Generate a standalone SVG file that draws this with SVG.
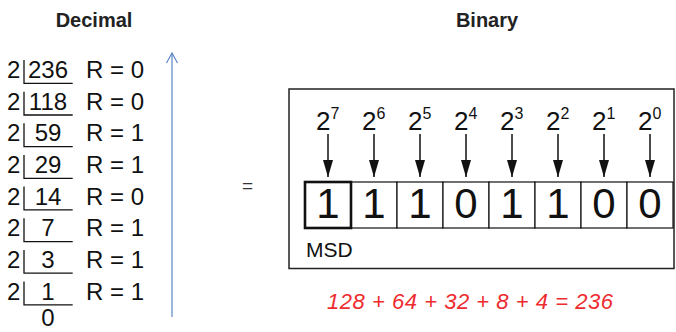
<svg xmlns="http://www.w3.org/2000/svg" width="676" height="332" viewBox="0 0 676 332">
<style>
.t{font-family:"Liberation Sans",Arial,sans-serif;fill:#111}
.title{font-family:"Liberation Sans",Arial,sans-serif;font-weight:bold;font-size:20px;fill:#222;text-anchor:middle}
.row{font-size:24px}
.num{text-anchor:middle}
.div{fill:none;stroke:#111;stroke-width:1.3}
.cell{fill:#fff;stroke:#111;stroke-width:1.2}
.digit{font-size:42px;text-anchor:middle}
.exp{font-size:26px}
.sup{font-size:16px}
.arr{stroke:#111;stroke-width:1.5;fill:none}
</style>
<defs>
<marker id="ah" viewBox="0 -5 17 10" refX="17" refY="0" markerWidth="17" markerHeight="10" markerUnits="userSpaceOnUse" orient="auto">
<path d="M0,-5 L17,0 L0,5 z" fill="#111"/>
</marker>
<marker id="oh" viewBox="-1 -7 12 14" refX="10" refY="0" markerWidth="12" markerHeight="14" markerUnits="userSpaceOnUse" orient="auto">
<path d="M0,-5.5 L10,0 L0,5.5" fill="none" stroke="#5b87c5" stroke-width="1.2"/>
</marker>
</defs>
<rect width="676" height="332" fill="#fff"/>
<text class="title" x="94" y="27">Decimal</text>
<text class="title" x="487" y="27">Binary</text>

<g id="division">
<g id="row1"><text class="t row" x="7" y="78">2</text><path class="div" d="M24,60 V83.3 H72.7"/><text class="t row num" x="48" y="78">236</text><text class="t row" x="86" y="78">R = 0</text></g>
<g id="row2"><text class="t row" x="7" y="109.7">2</text><path class="div" d="M24,91.7 V115 H72.7"/><text class="t row num" x="48" y="109.7">118</text><text class="t row" x="86" y="109.7">R = 0</text></g>
<g id="row3"><text class="t row" x="7" y="141.3">2</text><path class="div" d="M24,123.3 V146.6 H72.7"/><text class="t row num" x="48" y="141.3">59</text><text class="t row" x="86" y="141.3">R = 1</text></g>
<g id="row4"><text class="t row" x="7" y="173">2</text><path class="div" d="M24,155 V178.3 H72.7"/><text class="t row num" x="48" y="173">29</text><text class="t row" x="86" y="173">R = 1</text></g>
<g id="row5"><text class="t row" x="7" y="204.6">2</text><path class="div" d="M24,186.6 V209.9 H72.7"/><text class="t row num" x="48" y="204.6">14</text><text class="t row" x="86" y="204.6">R = 0</text></g>
<g id="row6"><text class="t row" x="7" y="236.3">2</text><path class="div" d="M24,218.3 V241.6 H72.7"/><text class="t row num" x="48" y="236.3">7</text><text class="t row" x="86" y="236.3">R = 1</text></g>
<g id="row7"><text class="t row" x="7" y="267.9">2</text><path class="div" d="M24,249.9 V273.2 H72.7"/><text class="t row num" x="48" y="267.9">3</text><text class="t row" x="86" y="267.9">R = 1</text></g>
<g id="row8"><text class="t row" x="7" y="299.6">2</text><path class="div" d="M24,281.6 V304.9 H72.7"/><text class="t row num" x="48" y="299.6">1</text><text class="t row" x="86" y="299.6">R = 1</text></g>
<g id="row9"><text class="t row num" x="48" y="326">0</text></g>
</g>

<g id="equals"><text class="t" x="247.5" y="191.5" font-size="19" text-anchor="middle" style="fill:#333">=</text></g>

<g id="binary-box">
<rect x="289" y="89" width="385" height="179.5" fill="none" stroke="#222" stroke-width="1.5"/>
<text class="t" x="306" y="257" font-size="21">MSD</text>
</g>

<g id="weights">
<text class="t exp" x="316" y="130">2<tspan class="sup" dy="-11">7</tspan></text>
<text class="t exp" x="362" y="130">2<tspan class="sup" dy="-11">6</tspan></text>
<text class="t exp" x="408" y="130">2<tspan class="sup" dy="-11">5</tspan></text>
<text class="t exp" x="454" y="130">2<tspan class="sup" dy="-11">4</tspan></text>
<text class="t exp" x="500" y="130">2<tspan class="sup" dy="-11">3</tspan></text>
<text class="t exp" x="546" y="130">2<tspan class="sup" dy="-11">2</tspan></text>
<text class="t exp" x="592" y="130">2<tspan class="sup" dy="-11">1</tspan></text>
<text class="t exp" x="638" y="130">2<tspan class="sup" dy="-11">0</tspan></text>
</g>

<g id="cells">
<g id="cell1"><rect class="cell" x="305" y="182" width="46" height="46"/><text class="t digit" x="328" y="218">1</text></g>
<g id="cell2"><rect class="cell" x="351" y="182" width="46" height="46"/><text class="t digit" x="374" y="218">1</text></g>
<g id="cell3"><rect class="cell" x="397" y="182" width="46" height="46"/><text class="t digit" x="420" y="218">1</text></g>
<g id="cell4"><rect class="cell" x="443" y="182" width="46" height="46"/><text class="t digit" x="466" y="218">0</text></g>
<g id="cell5"><rect class="cell" x="489" y="182" width="46" height="46"/><text class="t digit" x="512" y="218">1</text></g>
<g id="cell6"><rect class="cell" x="535" y="182" width="46" height="46"/><text class="t digit" x="558" y="218">1</text></g>
<g id="cell7"><rect class="cell" x="581" y="182" width="46" height="46"/><text class="t digit" x="604" y="218">0</text></g>
<g id="cell8"><rect class="cell" x="627" y="182" width="46" height="46"/><text class="t digit" x="650" y="218">0</text></g>
<rect x="305" y="182" width="46" height="46" fill="none" stroke="#111" stroke-width="2.6"/>
</g>

<g id="connectors">
<line x1="172" y1="317" x2="172" y2="53" stroke="#5b87c5" stroke-width="1.2" marker-end="url(#oh)"/>
<line class="arr" x1="328" y1="134" x2="328" y2="177" marker-end="url(#ah)"/>
<line class="arr" x1="374" y1="134" x2="374" y2="177" marker-end="url(#ah)"/>
<line class="arr" x1="420" y1="134" x2="420" y2="177" marker-end="url(#ah)"/>
<line class="arr" x1="466" y1="134" x2="466" y2="177" marker-end="url(#ah)"/>
<line class="arr" x1="512" y1="134" x2="512" y2="177" marker-end="url(#ah)"/>
<line class="arr" x1="558" y1="134" x2="558" y2="177" marker-end="url(#ah)"/>
<line class="arr" x1="604" y1="134" x2="604" y2="177" marker-end="url(#ah)"/>
<line class="arr" x1="650" y1="134" x2="650" y2="177" marker-end="url(#ah)"/>
</g>

<g id="sum"><text x="327" y="309" font-family="'Liberation Sans',Arial,sans-serif" font-style="italic" font-size="22" fill="#ee2b2f" textLength="286" lengthAdjust="spacing">128 + 64 + 32 + 8 + 4 = 236</text></g>
</svg>
